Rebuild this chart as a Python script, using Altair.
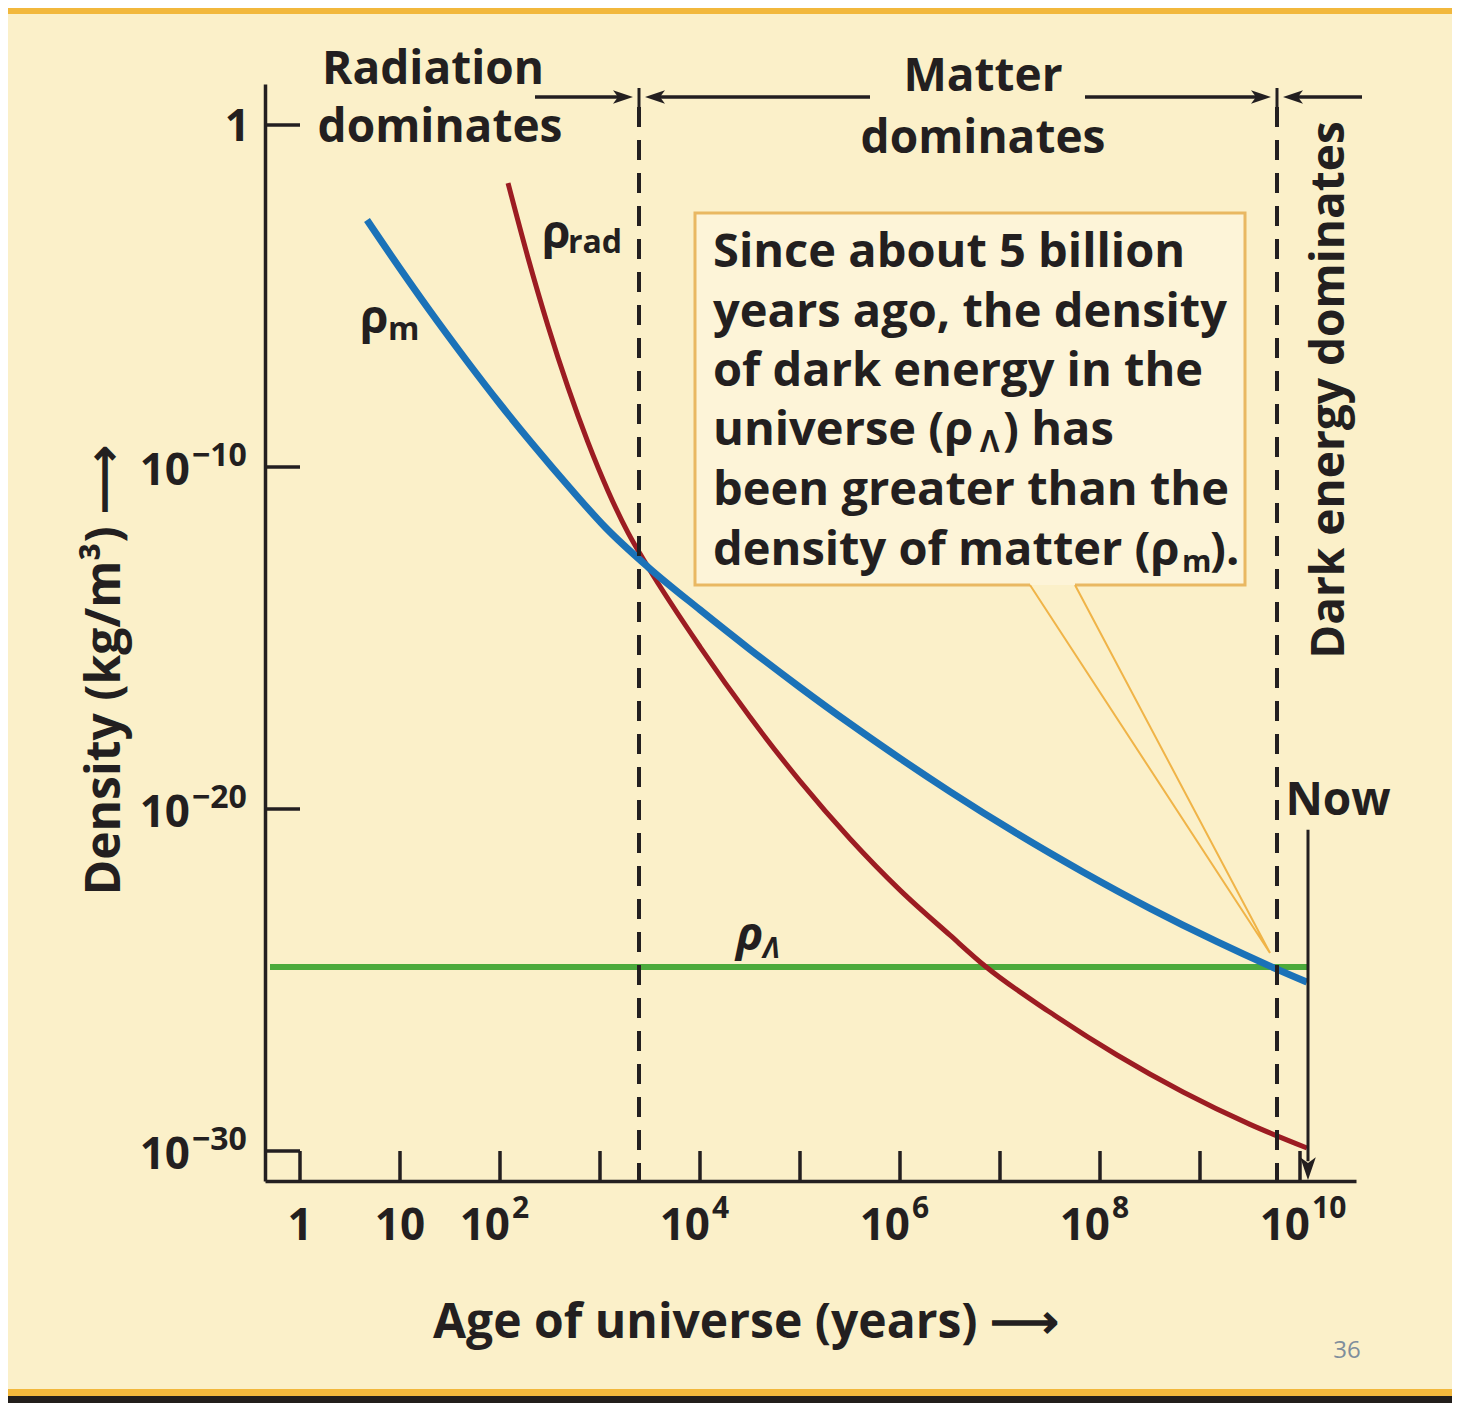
import altair as alt
import pandas as pd

FONT = "Open Sans"
INK = "#231f20"
BG = "#fbf0c9"
BLUE = "#1b72b8"
RED = "#9c1c22"
GREEN = "#4caa3c"
BOXLINE = "#e9b862"
CALLOUT = "#f0b448"

# plot ranges, log10 units
X_MIN_EXP, X_MAX_EXP = -0.35, 10.56
Y_MIN_EXP, Y_MAX_EXP = -30.877, 1.199

# ---- curves: log10(age / years), log10(density / kg m^-3) ----
matter_age_exp = [0.67, 1.00, 1.30, 1.65, 2.00, 2.35, 2.70, 3.05, 3.48, 4.00, 4.50,
                  5.00, 5.50, 6.00, 6.50, 7.17, 7.83, 8.50, 9.17, 9.70, 10.07]
matter_rho_exp = [-2.778, -4.196, -5.439, -6.827, -8.158, -9.415, -10.614, -11.754,
                  -12.924, -14.175, -15.333, -16.442, -17.506, -18.520, -19.491,
                  -20.719, -21.842, -22.904, -23.880, -24.593, -25.061]

rad_age_exp = [2.08, 2.28, 2.48, 2.68, 2.88, 3.08, 3.28, 3.48, 4.00, 4.50, 5.00,
               5.50, 6.00, 6.50, 6.85, 7.50, 8.17, 8.83, 9.50, 10.07]
rad_rho_exp = [-1.696, -3.880, -5.874, -7.673, -9.281, -10.699, -11.921, -12.924,
               -15.257, -17.313, -19.184, -20.868, -22.371, -23.690, -24.591,
               -25.944, -27.193, -28.275, -29.222, -29.912]

lambda_age_exp = [-0.30, 10.08]
lambda_rho_exp = [-24.62, -24.62]

# ---- epochs ----
transition_exp = [3.39, 9.77]
now_exp = 10.08
now_top_exp = -20.61
arrow_y_exp = 0.819

# ---- ticks and labels ----
x_tick_exp = [0, 1, 2, 3, 4, 5, 6, 7, 8, 9, 10]
y_tick_exp = [0, -10, -20, -30]
x_plain_exp = [0, 1]
x_plain_text = ["1", "10"]
x_pow_exp = [2, 4, 6, 8, 10]
x_pow_sup = ["2", "4", "6", "8", "10"]
y_pow_exp = [-10, -20, -30]
y_pow_sup = ["\u221210", "\u221220", "\u221230"]

# ---- annotation box ----
box_x_exp = [3.95, 9.45]
box_y_exp = [-2.573, -13.45]
callout_x_exp = [7.30, 9.70, 7.75]
callout_y_exp = [-13.45, -24.21, -13.45]
box_lines = ["Since about 5 billion", "years ago, the density", "of dark energy in the",
             "universe (\u03c1", "been greater than the", "density of matter (\u03c1"]
box_line_y_exp = [-4.152, -5.892, -7.632, -9.371, -11.111, -12.851]
box_text_x_exp = 4.13


def p(v):
    return 10.0 ** v


W, H = 1091, 1097
xs = alt.Scale(type="log", domain=[p(X_MIN_EXP), p(X_MAX_EXP)], nice=False)
ys = alt.Scale(type="log", domain=[p(Y_MIN_EXP), p(Y_MAX_EXP)], nice=False)
ax_x = alt.Axis(labels=False, ticks=False, title=None, grid=False,
                domainColor=INK, domainWidth=3.5)
ax_y = alt.Axis(labels=False, ticks=False, title=None, grid=False,
                domainColor=INK, domainWidth=3.5)


def X(f="x"):
    return alt.X(f"{f}:Q", scale=xs, axis=ax_x)


def Y(f="y"):
    return alt.Y(f"{f}:Q", scale=ys, axis=ax_y)


layers = []

# frame bands (decoration)
frame = alt.Chart(pd.DataFrame({"a": [0]}))
layers.append(frame.mark_rect(color="#f2b83c").encode(
    x=alt.value(-257), x2=alt.value(W + 96), y=alt.value(-76), y2=alt.value(-70)))
layers.append(frame.mark_rect(color="#f2b83c").encode(
    x=alt.value(-257), x2=alt.value(W + 96), y=alt.value(1305), y2=alt.value(1312)))
layers.append(frame.mark_rect(color="#221e1b").encode(
    x=alt.value(-257), x2=alt.value(W + 96), y=alt.value(1312), y2=alt.value(1319)))

# annotation box fill
box_df = pd.DataFrame({"x": [p(box_x_exp[0])], "x2": [p(box_x_exp[1])],
                       "y": [p(box_y_exp[0])], "y2": [p(box_y_exp[1])]})
layers.append(alt.Chart(box_df).mark_rect(fill="#fdf4d8").encode(
    x=X(), x2="x2:Q", y=Y(), y2="y2:Q"))

# curves
lam_df = pd.DataFrame({"x": [p(v) for v in lambda_age_exp], "y": [p(v) for v in lambda_rho_exp]})
layers.append(alt.Chart(lam_df).mark_line(color=GREEN, strokeWidth=6).encode(x=X(), y=Y()))

rad_df = pd.DataFrame({"x": [p(v) for v in rad_age_exp], "y": [p(v) for v in rad_rho_exp]})
layers.append(alt.Chart(rad_df).mark_line(color=RED, strokeWidth=5, interpolate="monotone").encode(
    x=X(), y=Y()))

mat_df = pd.DataFrame({"x": [p(v) for v in matter_age_exp], "y": [p(v) for v in matter_rho_exp]})
layers.append(alt.Chart(mat_df).mark_line(color=BLUE, strokeWidth=7, interpolate="monotone").encode(
    x=X(), y=Y()))

# tick marks (inward)
xt_df = pd.DataFrame({"x": [p(v) for v in x_tick_exp], "y": p(Y_MIN_EXP), "y2": p(-30.0)})
layers.append(alt.Chart(xt_df).mark_rule(color=INK, strokeWidth=3.5).encode(
    x=X(), y=Y(), y2="y2:Q"))
yt_df = pd.DataFrame({"y": [p(v) for v in y_tick_exp], "x": p(X_MIN_EXP), "x2": 1.0})
layers.append(alt.Chart(yt_df).mark_rule(color=INK, strokeWidth=3.5).encode(
    x=X(), x2="x2:Q", y=Y()))

# dashed epoch boundaries
dash_df = pd.DataFrame({"x": [p(v) for v in transition_exp], "y": p(0.526), "y2": p(Y_MIN_EXP)})
layers.append(alt.Chart(dash_df).mark_rule(color=INK, strokeWidth=4, strokeDash=[20, 13]).encode(
    x=X(), y=Y(), y2="y2:Q"))
junc_df = pd.DataFrame({"x": [p(v) for v in transition_exp], "y": p(1.082), "y2": p(0.526)})
layers.append(alt.Chart(junc_df).mark_rule(color=INK, strokeWidth=3).encode(
    x=X(), y=Y(), y2="y2:Q"))

# top arrows
arrow_start_exp = [2.35, 5.70, 7.85, 10.62]
arrow_tip_exp = [3.33, 3.45, 9.71, 9.83]
arrow_dir = ["right", "left", "right", "left"]
arr_df = pd.DataFrame({
    "x": [p(v) for v in arrow_start_exp],
    "x2": [p(t - 0.08) if d == "right" else p(t + 0.08) for t, d in zip(arrow_tip_exp, arrow_dir)],
    "y": p(arrow_y_exp)})
layers.append(alt.Chart(arr_df).mark_rule(color=INK, strokeWidth=3.5).encode(
    x=X(), x2="x2:Q", y=Y()))
RIGHT_HEAD = "M0,0L-1,-0.34L-0.75,0L-1,0.34Z"
LEFT_HEAD = "M0,0L1,-0.34L0.75,0L1,0.34Z"
DOWN_HEAD = "M0,0L-0.34,-1L0,-0.75L0.34,-1Z"
head_df = pd.DataFrame({"x": [p(v) for v in arrow_tip_exp], "y": p(arrow_y_exp),
                        "shape": [RIGHT_HEAD if d == "right" else LEFT_HEAD for d in arrow_dir]})
layers.append(alt.Chart(head_df).mark_point(filled=True, opacity=1, size=1600, color=INK,
                                            strokeWidth=0).encode(
    x=X(), y=Y(), shape=alt.Shape("shape:N", scale=None)))

# "Now" arrow
now_df = pd.DataFrame({"x": [p(now_exp)], "y": [p(now_top_exp)], "y2": [p(-30.3)]})
layers.append(alt.Chart(now_df).mark_rule(color=INK, strokeWidth=3).encode(
    x=X(), y=Y(), y2="y2:Q"))
nowhead_df = pd.DataFrame({"x": [p(now_exp)], "y": [p(-30.85)], "shape": [DOWN_HEAD]})
layers.append(alt.Chart(nowhead_df).mark_point(filled=True, opacity=1, size=2100, color=INK,
                                               strokeWidth=0).encode(
    x=X(), y=Y(), shape=alt.Shape("shape:N", scale=None)))

# annotation box outline and callout
outline_x = [callout_x_exp[0], box_x_exp[0], box_x_exp[0], box_x_exp[1], box_x_exp[1], callout_x_exp[2]]
outline_y = [box_y_exp[1], box_y_exp[1], box_y_exp[0], box_y_exp[0], box_y_exp[1], box_y_exp[1]]
out_df = pd.DataFrame({"x": [p(v) for v in outline_x], "y": [p(v) for v in outline_y],
                       "i": list(range(len(outline_x)))})
layers.append(alt.Chart(out_df).mark_line(color=BOXLINE, strokeWidth=3).encode(
    x=X(), y=Y(), order=alt.Order("i:Q")))
cal_df = pd.DataFrame({"x": [p(v) for v in callout_x_exp], "y": [p(v) for v in callout_y_exp],
                       "i": [0, 1, 2]})
layers.append(alt.Chart(cal_df).mark_line(color=CALLOUT, strokeWidth=2).encode(
    x=X(), y=Y(), order=alt.Order("i:Q")))


def text_layer(xe, ye, texts, **kw):
    df = pd.DataFrame({"x": [p(v) for v in xe], "y": [p(v) for v in ye], "t": texts})
    props = dict(font=FONT, fontWeight="bold", color=INK, baseline="alphabetic")
    props.update(kw)
    return alt.Chart(df).mark_text(**props).encode(x=X(), y=Y(), text="t:N")


# region headers
layers.append(text_layer([1.33, 1.40, 6.83, 6.83, 10.38], [1.199, -0.497, 0.994, -0.819, -20.18],
                         ["Radiation", "dominates", "Matter", "dominates", "Now"],
                         align="center", fontSize=46))
layers.append(text_layer([10.30], [-7.75], ["Dark energy dominates"], align="center",
                         baseline="middle", angle=270, fontSize=46))

# box text
layers.append(text_layer([box_text_x_exp] * 6, box_line_y_exp, box_lines, align="left", fontSize=47))
layers.append(text_layer([7.03, 9.10], [-9.371, -12.851], [") has", ")."], align="left", fontSize=47))
layers.append(text_layer([6.80, 8.82], [-9.561, -13.07], ["\u039b", "m"], align="left", fontSize=30))

# curve labels
layers.append(text_layer([2.42, 0.60], [-3.596, -6.082], ["\u03c1", "\u03c1"], align="left", fontSize=46))
layers.append(text_layer([2.68, 0.88], [-3.743, -6.287], ["rad", "m"], align="left", fontSize=32))
layers.append(text_layer([4.36], [-24.12], ["\u03c1"], align="left", fontSize=46, fontStyle="italic"))
layers.append(text_layer([4.63], [-24.36], ["\u039b"], align="left", fontSize=28, fontStyle="italic"))

# x tick labels
layers.append(text_layer(x_plain_exp, [Y_MIN_EXP] * 2, x_plain_text, align="center", fontSize=44, dy=59))
layers.append(text_layer(x_pow_exp, [Y_MIN_EXP] * 5, ["10"] * 5, align="right", fontSize=44, dx=10, dy=59))
layers.append(text_layer(x_pow_exp, [Y_MIN_EXP] * 5, x_pow_sup, align="left", fontSize=30, dx=12, dy=37))

# y tick labels
layers.append(text_layer([X_MIN_EXP], [0], ["1"], align="right", fontSize=44, dx=-15, dy=16))
layers.append(text_layer([X_MIN_EXP] * 3, y_pow_exp, ["10"] * 3, align="right", fontSize=44, dx=-75, dy=18))
layers.append(text_layer([X_MIN_EXP] * 3, y_pow_exp, y_pow_sup, align="left", fontSize=32, dx=-73, dy=-1))

# axis titles
layers.append(text_layer([4.46], [-35.468], ["Age of universe (years) \u27f6"], align="center", fontSize=48))
layers.append(text_layer([-1.94], [-15.936], ["Density (kg/m\u00b3) \u27f6"], align="center",
                         baseline="middle", angle=270, fontSize=48))

# page number
layers.append(text_layer([10.47], [-36.05], ["36"], align="center", fontSize=24,
                         fontWeight="normal", color="#7f8e9c"))

chart = alt.layer(*layers).properties(
    width=W, height=H,
    padding={"left": 257, "top": 76, "right": 96, "bottom": 222},
    autosize=alt.AutoSizeParams(type="none"),
    background=BG,
).configure(
    font=FONT,
    view=alt.ViewConfig(stroke="transparent", strokeWidth=0),
)

chart.save("out.html", embed_options={"renderer": "svg", "actions": False})
